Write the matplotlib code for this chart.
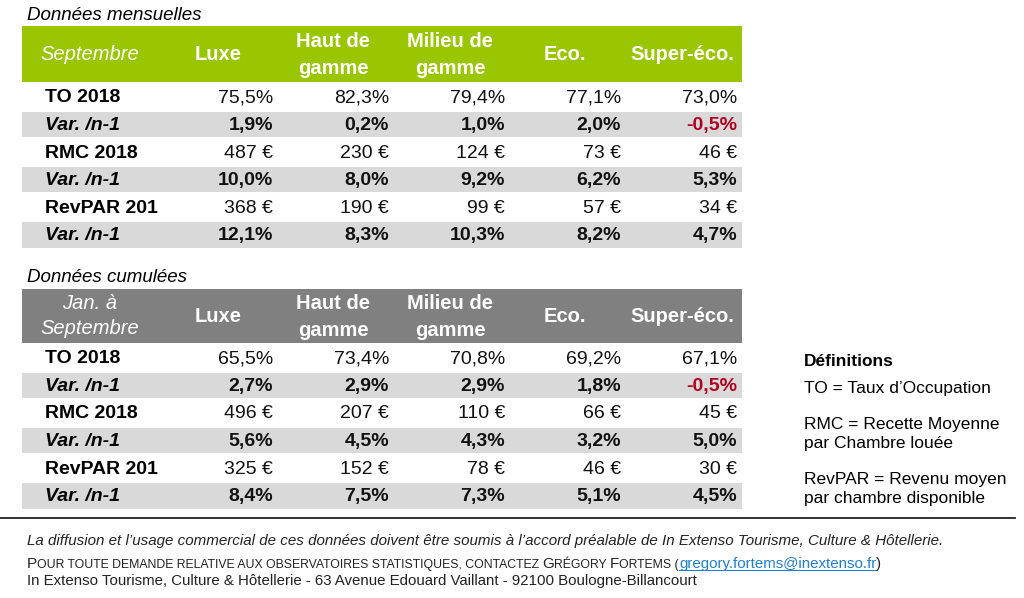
import numpy as np
import matplotlib
matplotlib.use('Agg')
import matplotlib.pyplot as plt
from matplotlib.patches import Rectangle

plt.rcParams['font.family'] = ['Liberation Sans', 'DejaVu Sans']

# ---- données ----
colonnes = ['Luxe', 'Haut de\ngamme', 'Milieu de\ngamme', 'Eco.', 'Super-éco.']
lignes = ['TO 2018', 'Var. /n-1', 'RMC 2018', 'Var. /n-1', 'RevPAR 201', 'Var. /n-1']

mens_to = [75.5, 82.3, 79.4, 77.1, 73.0]
mens_to_var = [1.9, 0.2, 1.0, 2.0, -0.5]
mens_rmc = [487, 230, 124, 73, 46]
mens_rmc_var = [10.0, 8.0, 9.2, 6.2, 5.3]
mens_revpar = [368, 190, 99, 57, 34]
mens_revpar_var = [12.1, 8.3, 10.3, 8.2, 4.7]

cum_to = [65.5, 73.4, 70.8, 69.2, 67.1]
cum_to_var = [2.7, 2.9, 2.9, 1.8, -0.5]
cum_rmc = [496, 207, 110, 66, 45]
cum_rmc_var = [5.6, 4.5, 4.3, 3.2, 5.0]
cum_revpar = [325, 152, 78, 46, 30]
cum_revpar_var = [8.4, 7.5, 7.3, 5.1, 4.5]

definitions = ['TO = Taux d\u2019Occupation',
               'RMC = Recette Moyenne\npar Chambre louée',
               'RevPAR = Revenu moyen\npar chambre disponible']

VERT = '#99C600'
GRIS_TETE = '#808080'
GRIS_LIGNE = '#D9D9D9'
ROUGE = '#B00020'

fig = plt.figure(figsize=(10.24, 5.98), dpi=100)
ax = fig.add_axes([0, 0, 1, 1])
ax.set_xlim(0, 1024)
ax.set_ylim(598, 0)
ax.axis('off')

x_gauche, x_droite = 22, 742
col_centres = [218, 333, 450, 565, 682]
col_droites = [273, 389, 505, 621, 737]
h_ligne = 27.6


def pct(v):
    return f'{v:.1f}%'.replace('.', ',')


def euro(v):
    return f'{v} \u20ac'


def tableau(titre, y_titre, y_tete, h_tete, couleur_tete, libelle_tete, valeurs):
    ax.text(27, y_titre, titre, fontsize=13.5, style='italic', va='center', ha='left')
    ax.add_patch(Rectangle((x_gauche, y_tete), x_droite - x_gauche, h_tete,
                           facecolor=couleur_tete, edgecolor='none'))
    yc = y_tete + h_tete / 2
    ax.text(90, yc, libelle_tete, color='white', style='italic', fontsize=14.5,
            ha='center', va='center', linespacing=1.45)
    for xc, c in zip(col_centres, colonnes):
        ax.text(xc, yc + 1, c, color='white', weight='bold', fontsize=14.5,
                ha='center', va='center', linespacing=1.5)
    y0 = y_tete + h_tete + 1
    for i, (lab, row) in enumerate(zip(lignes, valeurs)):
        ytop = y0 + i * h_ligne
        var = i % 2 == 1
        if var:
            ax.add_patch(Rectangle((x_gauche, ytop + 1), x_droite - x_gauche, h_ligne - 2,
                                   facecolor=GRIS_LIGNE, edgecolor='none'))
        ymid = ytop + h_ligne / 2 + 1
        ax.text(45, ymid, lab, fontsize=14, weight='bold',
                style='italic' if var else 'normal', ha='left', va='center')
        for xr, v in zip(col_droites, row):
            if var:
                ax.text(xr, ymid, pct(v), fontsize=14, weight='bold', ha='right', va='center',
                        color=ROUGE if v < 0 else '#111111')
            elif i == 0:
                ax.text(xr, ymid, pct(v), fontsize=14, ha='right', va='center', color='#111111')
            else:
                ax.text(xr, ymid, euro(v), fontsize=14, ha='right', va='center', color='#111111')


tableau('Données mensuelles', 16, 26, 56, VERT, 'Septembre',
        [mens_to, mens_to_var, mens_rmc, mens_rmc_var, mens_revpar, mens_revpar_var])
tableau('Données cumulées', 278, 289, 54, GRIS_TETE, 'Jan. à\nSeptembre',
        [cum_to, cum_to_var, cum_rmc, cum_rmc_var, cum_revpar, cum_revpar_var])

# définitions
ax.text(804, 361, 'Définitions', fontsize=12.5, weight='bold', ha='left', va='center')
for y, d in zip([389, 434, 489], definitions):
    ax.text(804, y, d, fontsize=12.5, ha='left', va='center', linespacing=1.4)

# trait séparateur
ax.plot([0, 1015], [518, 518], color='#222222', lw=1.3)

narrow = ['Liberation Sans Narrow', 'Liberation Sans', 'DejaVu Sans']
ax.text(27, 541, 'La diffusion et l\u2019usage commercial de ces données doivent être soumis '
        'à l\u2019accord préalable de In Extenso Tourisme, Culture & Hôtellerie.',
        fontsize=10.9, style='italic', family=narrow, ha='left', va='center', color='#222222')

# ligne en petites capitales
fig.canvas.draw()
renderer = fig.canvas.get_renderer()
morceaux = [('P', 11, 'k'), ('OUR TOUTE DEMANDE RELATIVE AUX OBSERVATOIRES STATISTIQUES, CONTACTEZ ', 8.8, 'k'),
            ('G', 11, 'k'), ('RÉGORY ', 8.8, 'k'), ('F', 11, 'k'), ('ORTEMS (', 8.8, 'k'),
            ('gregory.fortems@inextenso.fr', 10.8, '#1F7FD0'), (')', 10.8, 'k')]
x = 27
inv = ax.transData.inverted()
for txt, fs, col in morceaux:
    t = ax.text(x, 568, txt, fontsize=fs, family=narrow, ha='left', va='baseline',
                color='#222222' if col == 'k' else col)
    bb = t.get_window_extent(renderer)
    (x0, _), (x1, _) = inv.transform([(bb.x0, 0), (bb.x1, 0)])
    if col != 'k':
        ax.plot([x0, x1], [570, 570], color=col, lw=0.8)
    x = x1

ax.text(27, 581, 'In Extenso Tourisme, Culture & Hôtellerie - 63 Avenue Edouard Vaillant - '
        '92100 Boulogne-Billancourt', fontsize=10.8, family=narrow, ha='left', va='center',
        color='#222222')

fig.savefig('out.png', dpi=100)
